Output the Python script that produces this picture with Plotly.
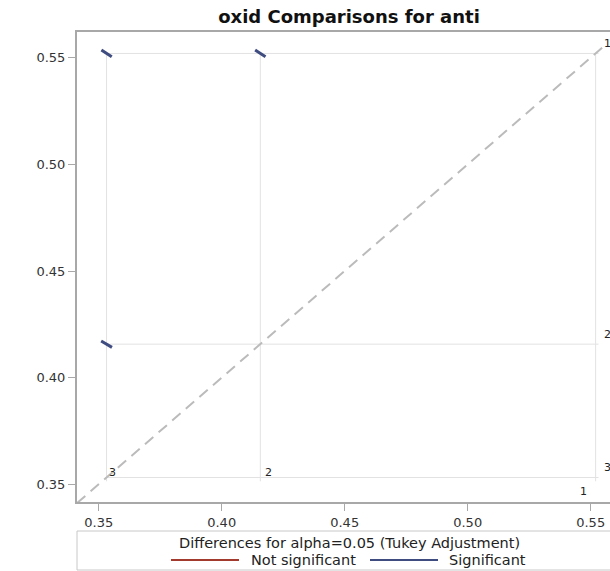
import plotly.graph_objects as go

# ---------------- data ----------------
levels = ["1", "2", "3"]
lsmeans = [0.5520, 0.4157, 0.3532]

# pairwise comparisons: (x level index, y level index)
pair_x = [2, 1, 2]
pair_y = [0, 0, 1]
pair_sig = [True, True, True]
seg_hx = [0.0021, 0.0021, 0.0022]   # half extent of CI segment (x)
seg_hy = [0.0016, 0.0016, 0.0015]   # half extent of CI segment (y)

tick_vals = [0.35, 0.40, 0.45, 0.50, 0.55]
tick_text = ["0.35", "0.40", "0.45", "0.50", "0.55"]

title_text = "oxid Comparisons for anti"
legend_title = "Differences for alpha=0.05 (Tukey Adjustment)"
legend_items = ["Not significant", "Significant"]

# ---------------- layout constants ----------------
W, H = 610, 571
L, R, T, B = 77, 610, 32, 502
xr = [0.34118, 0.55785]
yr = [0.3417, 0.56205]

SIG_COLOR = "#3F4C80"
NS_COLOR = "#A23A2E"
REF_COLOR = "#E2E2E2"
AXIS_COLOR = "#A8A8A8"
FONT = "DejaVu Sans"


def px(x):
    return (x - L) / (R - L)


def py(y):
    return (B - y) / (B - T)


fig = go.Figure()

lo, hi = min(lsmeans), max(lsmeans)
pad = 0.0018

# reference grid lines
for m in lsmeans:
    fig.add_shape(type="line", xref="x", yref="y", x0=m, x1=m, y0=lo - pad, y1=hi,
                  line=dict(color=REF_COLOR, width=1), layer="below")
    fig.add_shape(type="line", xref="x", yref="y", x0=lo, x1=hi + 0.0012, y0=m, y1=m,
                  line=dict(color=REF_COLOR, width=1), layer="below")

# diagonal
d0, d1 = xr[0], hi + 0.0035
fig.add_trace(go.Scatter(x=[d0, d1], y=[d0, d1], mode="lines",
                         line=dict(color="#BBBBBB", width=2, dash="11px,7px"),
                         hoverinfo="skip", showlegend=False))

# comparison segments
for i in range(len(pair_x)):
    cx = lsmeans[pair_x[i]]
    cy = lsmeans[pair_y[i]]
    col = SIG_COLOR if pair_sig[i] else NS_COLOR
    fig.add_trace(go.Scatter(x=[cx - seg_hx[i], cx + seg_hx[i]],
                             y=[cy + seg_hy[i], cy - seg_hy[i]],
                             mode="lines", line=dict(color=col, width=3),
                             showlegend=False, hoverinfo="skip"))

annotations = []
lab_font = dict(family=FONT, size=11, color="#222222")
# labels for vertical lines (bottom)
bottom_shift = {"1": (-12, -14), "2": (8, 5), "3": (6, 5)}
for lv, m in zip(levels, lsmeans):
    xs, ys = bottom_shift[lv]
    annotations.append(dict(x=m, y=lo, xref="x", yref="y", text=lv, showarrow=False,
                            xshift=xs, yshift=ys, font=lab_font,
                            xanchor="center", yanchor="middle"))
# labels for horizontal lines (right)
for lv, m in zip(levels, lsmeans):
    annotations.append(dict(x=hi, y=m, xref="x", yref="y", text=lv, showarrow=False,
                            xshift=12, yshift=10, font=lab_font,
                            xanchor="center", yanchor="middle"))

# legend (drawn manually)
leg_font = dict(family=FONT, size=14.5, color="#222222")
shapes = []
shapes.append(dict(type="rect", xref="paper", yref="paper",
                   x0=px(77), x1=px(640), y0=py(531), y1=py(570),
                   line=dict(color="#C8C8C8", width=1), fillcolor="rgba(0,0,0,0)"))
annotations.append(dict(x=px(349), y=py(543), xref="paper", yref="paper",
                        text=legend_title, showarrow=False, font=leg_font,
                        xanchor="center", yanchor="middle"))
shapes.append(dict(type="line", xref="paper", yref="paper", x0=px(171), x1=px(239),
                   y0=py(560), y1=py(560), line=dict(color=NS_COLOR, width=2)))
annotations.append(dict(x=px(249), y=py(560), xref="paper", yref="paper",
                        text=legend_items[0], showarrow=False, font=leg_font,
                        xanchor="left", yanchor="middle"))
shapes.append(dict(type="line", xref="paper", yref="paper", x0=px(370), x1=px(438),
                   y0=py(560), y1=py(560), line=dict(color=SIG_COLOR, width=2)))
annotations.append(dict(x=px(447), y=py(560), xref="paper", yref="paper",
                        text=legend_items[1], showarrow=False, font=leg_font,
                        xanchor="left", yanchor="middle"))

for s in shapes:
    fig.add_shape(**s)

fig.update_layout(
    width=W, height=H,
    margin=dict(l=L, r=W - R, t=T, b=H - B),
    paper_bgcolor="white", plot_bgcolor="white",
    title=dict(text="<b>" + title_text + "</b>", x=349 / W, xanchor="center",
               y=1 - 17 / H, yanchor="middle", xref="container", yref="container",
               font=dict(family=FONT, size=18, color="#111111")),
    annotations=annotations,
    showlegend=False,
)
fig.update_xaxes(range=xr, tickvals=tick_vals, ticktext=tick_text,
                 showgrid=False, zeroline=False, showline=True, mirror=True,
                 linecolor=AXIS_COLOR, linewidth=2, ticks="outside", ticklen=7,
                 tickcolor=AXIS_COLOR, tickwidth=1,
                 tickfont=dict(family=FONT, size=13, color="#333333"))
fig.update_yaxes(range=yr, tickvals=tick_vals, ticktext=tick_text,
                 showgrid=False, zeroline=False, showline=True, mirror=False,
                 linecolor=AXIS_COLOR, linewidth=2, ticks="outside", ticklen=7,
                 tickcolor=AXIS_COLOR, tickwidth=1,
                 tickfont=dict(family=FONT, size=13, color="#333333"))

fig.write_html("out.html")
